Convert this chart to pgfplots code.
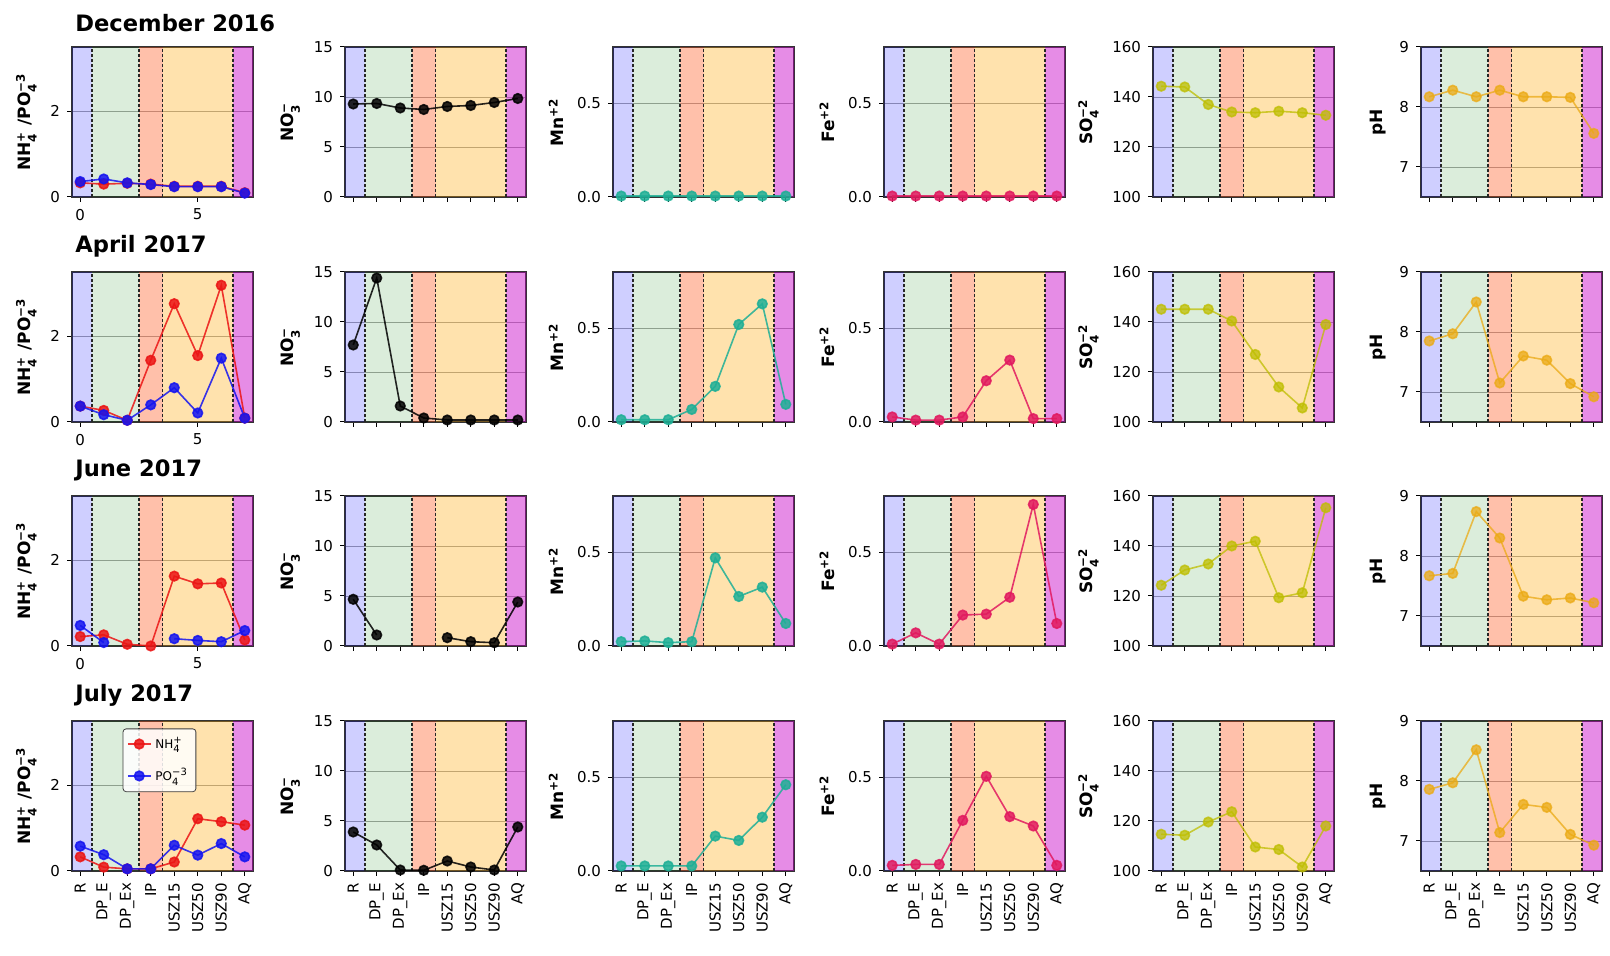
\documentclass[border=0pt]{standalone}
\usepackage{fontspec}
\setmainfont{DejaVu Sans}
\usepackage{amsmath}
\usepackage{pgfplots}
\pgfplotsset{compat=1.18}

\definecolor{cNH}{RGB}{235,20,20}
\definecolor{cPO}{RGB}{20,20,240}
\definecolor{cMn}{RGB}{30,175,150}
\definecolor{cFe}{RGB}{225,25,95}
\definecolor{cSO}{RGB}{190,190,0}
\definecolor{cpH}{RGB}{235,170,20}
\definecolor{sR}{RGB}{0,0,255}
\definecolor{sDP}{RGB}{0,128,0}
\definecolor{sIP}{RGB}{255,80,20}
\definecolor{sUSZ}{RGB}{255,165,0}
\definecolor{sAQ}{RGB}{200,0,200}

\newcommand\tickfont{\fontsize{7.5}{8}\selectfont}
\newcommand\labfont{\fontsize{8.5}{9}\selectfont\bfseries}
\newcommand\titlefont{\fontsize{11.3}{13}\selectfont\bfseries}

\newcommand\spans[2]{%
 \addplot[forget plot,draw=none,fill=sR,fill opacity=0.19] coordinates {(-0.5,#1) (0.5,#1) (0.5,#2) (-0.5,#2)};
 \addplot[forget plot,draw=none,fill=sDP,fill opacity=0.14] coordinates {(0.5,#1) (2.5,#1) (2.5,#2) (0.5,#2)};
 \addplot[forget plot,draw=none,fill=sIP,fill opacity=0.36] coordinates {(2.5,#1) (3.5,#1) (3.5,#2) (2.5,#2)};
 \addplot[forget plot,draw=none,fill=sUSZ,fill opacity=0.32] coordinates {(3.5,#1) (6.5,#1) (6.5,#2) (3.5,#2)};
 \addplot[forget plot,draw=none,fill=sAQ,fill opacity=0.45] coordinates {(6.5,#1) (7.5,#1) (7.5,#2) (6.5,#2)};
 \addplot[forget plot,vl] coordinates {(0.5,#1) (0.5,#2)};
 \addplot[forget plot,vl] coordinates {(2.5,#1) (2.5,#2)};
 \addplot[forget plot,vl] coordinates {(3.5,#1) (3.5,#2)};
 \addplot[forget plot,vl] coordinates {(6.5,#1) (6.5,#2)};
}

\pgfplotsset{
 vl/.style={black!85,line width=0.6pt,dash pattern=on 1.5pt off 1pt},
 base/.style={scale only axis,width=90.5pt,height=75pt,xmin=-0.35,xmax=7.35,
   anchor=south west,tick align=outside,tick pos=left,ymajorgrids,
   grid style={black!35,line width=0.4pt},major tick length=2.5pt,
   tick style={black,line width=0.5pt},axis line style={black!80,line width=0.6pt},
   ticklabel style={font=\tickfont},ylabel style={font=\labfont},
   /pgf/number format/assume math mode=true,unbounded coords=jump,
   title style={at={(0,1)},anchor=south west,font=\titlefont,inner xsep=0pt,yshift=-2pt,xshift=1.5pt}},
 numx/.style={xtick={0,5}},
 nox/.style={xtick={0,...,7},xticklabels={}},
 catx/.style={xtick={0,...,7},xticklabels={R,DP\_E,DP\_Ex,IP,USZ15,USZ50,USZ90,AQ},
   xticklabel style={rotate=90,anchor=east}},
 c1/.style={ymin=0,ymax=3.5,ytick={0,2},ylabel={NH$_{\text{4}}^{\text{+}}$ /PO$_{\text{4}}^{\text{−3}}$}},
 c2/.style={ymin=0,ymax=15,ytick={0,5,10,15},ylabel={NO$_{\text{3}}^{\text{−}}$}},
 c3/.style={ymin=0,ymax=0.8,ytick={0,0.5},yticklabels={0.0,0.5},ylabel={Mn$^{\text{+2}}$}},
 c4/.style={ymin=0,ymax=0.8,ytick={0,0.5},yticklabels={0.0,0.5},ylabel={Fe$^{\text{+2}}$}},
 c5/.style={ymin=100,ymax=160,ytick={100,120,140,160},ylabel={SO$_{\text{4}}^{\text{−2}}$}},
 c6/.style={ymin=6.5,ymax=9,ytick={7,8,9},ylabel={pH}},
 dat/.style={line width=0.8pt,mark=*,mark size=2.4pt,mark options={solid}},
 nh/.style={dat,color=cNH,opacity=0.85},
 po/.style={dat,color=cPO,opacity=0.85},
 no/.style={dat,color=black,opacity=0.85},
 mn/.style={dat,color=cMn,opacity=0.85},
 fe/.style={dat,color=cFe,opacity=0.85},
 so/.style={dat,color=cSO,opacity=0.75},
 ph/.style={dat,color=cpH,opacity=0.75},
}

\begin{document}
\begin{tikzpicture}
\useasboundingbox (0,0) rectangle (805pt,478pt);

% ---------------- Row 1: December 2016 ----------------
\begin{axis}[base,at={(36pt,379.5pt)},c1,numx,title={December 2016}]
\spans{0}{3.5}
\addplot[nh] coordinates {(0,0.33) (1,0.30) (2,0.32) (3,0.30) (4,0.25) (5,0.25) (6,0.25) (7,0.10)};
\addplot[po] coordinates {(0,0.36) (1,0.42) (2,0.33) (3,0.29) (4,0.24) (5,0.24) (6,0.24) (7,0.09)};
\end{axis}
\begin{axis}[base,at={(172.5pt,379.5pt)},c2,nox]
\spans{0}{15}
\addplot[no] coordinates {(0,9.3) (1,9.35) (2,8.9) (3,8.75) (4,9.05) (5,9.15) (6,9.45) (7,9.85)};
\end{axis}
\begin{axis}[base,at={(306.5pt,379.5pt)},c3,nox]
\spans{0}{0.8}
\addplot[mn] coordinates {(0,0.005) (1,0.005) (2,0.005) (3,0.005) (4,0.005) (5,0.005) (6,0.005) (7,0.005)};
\end{axis}
\begin{axis}[base,at={(442pt,379.5pt)},c4,nox]
\spans{0}{0.8}
\addplot[fe] coordinates {(0,0.005) (1,0.005) (2,0.005) (3,0.005) (4,0.005) (5,0.005) (6,0.005) (7,0.005)};
\end{axis}
\begin{axis}[base,at={(576.5pt,379.5pt)},c5,nox]
\spans{100}{160}
\addplot[so] coordinates {(0,144.3) (1,144) (2,137) (3,134) (4,133.7) (5,134.3) (6,133.7) (7,132.7)};
\end{axis}
\begin{axis}[base,at={(710.5pt,379.5pt)},c6,nox]
\spans{6.5}{9}
\addplot[ph] coordinates {(0,8.17) (1,8.28) (2,8.17) (3,8.28) (4,8.17) (5,8.17) (6,8.16) (7,7.56)};
\end{axis}

% ---------------- Row 2: April 2017 ----------------
\begin{axis}[base,at={(36pt,267pt)},c1,numx,title={April 2017}]
\spans{0}{3.5}
\addplot[nh] coordinates {(0,0.37) (1,0.27) (2,0.04) (3,1.44) (4,2.76) (5,1.55) (6,3.19) (7,0.09)};
\addplot[po] coordinates {(0,0.37) (1,0.17) (2,0.04) (3,0.40) (4,0.80) (5,0.21) (6,1.49) (7,0.09)};
\end{axis}
\begin{axis}[base,at={(172.5pt,267pt)},c2,nox]
\spans{0}{15}
\addplot[no] coordinates {(0,7.7) (1,14.4) (2,1.6) (3,0.4) (4,0.2) (5,0.2) (6,0.2) (7,0.2)};
\end{axis}
\begin{axis}[base,at={(306.5pt,267pt)},c3,nox]
\spans{0}{0.8}
\addplot[mn] coordinates {(0,0.012) (1,0.012) (2,0.012) (3,0.067) (4,0.19) (5,0.52) (6,0.63) (7,0.094)};
\end{axis}
\begin{axis}[base,at={(442pt,267pt)},c4,nox]
\spans{0}{0.8}
\addplot[fe] coordinates {(0,0.027) (1,0.01) (2,0.01) (3,0.027) (4,0.22) (5,0.33) (6,0.018) (7,0.018)};
\end{axis}
\begin{axis}[base,at={(576.5pt,267pt)},c5,nox]
\spans{100}{160}
\addplot[so] coordinates {(0,145.1) (1,145.1) (2,145.1) (3,140.4) (4,127) (5,114) (6,105.6) (7,139)};
\end{axis}
\begin{axis}[base,at={(710.5pt,267pt)},c6,nox]
\spans{6.5}{9}
\addplot[ph] coordinates {(0,7.85) (1,7.97) (2,8.5) (3,7.15) (4,7.6) (5,7.53) (6,7.14) (7,6.92)};
\end{axis}

% ---------------- Row 3: June 2017 ----------------
\begin{axis}[base,at={(36pt,155pt)},c1,numx,title={June 2017}]
\spans{0}{3.5}
\addplot[nh] coordinates {(0,0.22) (1,0.26) (2,0.04) (3,0.0) (4,1.63) (5,1.45) (6,1.47) (7,0.14)};
\addplot[po] coordinates {(0,0.48) (1,0.08) (2,nan) (3,nan) (4,0.17) (5,0.13) (6,0.10) (7,0.36)};
\end{axis}
\begin{axis}[base,at={(172.5pt,155pt)},c2,nox]
\spans{0}{15}
\addplot[no] coordinates {(0,4.67) (1,1.1) (2,nan) (3,nan) (4,0.83) (5,0.43) (6,0.33) (7,4.4)};
\end{axis}
\begin{axis}[base,at={(306.5pt,155pt)},c3,nox]
\spans{0}{0.8}
\addplot[mn] coordinates {(0,0.023) (1,0.027) (2,0.018) (3,0.023) (4,0.47) (5,0.264) (6,0.314) (7,0.12)};
\end{axis}
\begin{axis}[base,at={(442pt,155pt)},c4,nox]
\spans{0}{0.8}
\addplot[fe] coordinates {(0,0.01) (1,0.07) (2,0.01) (3,0.165) (4,0.17) (5,0.26) (6,0.755) (7,0.12)};
\end{axis}
\begin{axis}[base,at={(576.5pt,155pt)},c5,nox]
\spans{100}{160}
\addplot[so] coordinates {(0,124.3) (1,130.4) (2,132.8) (3,140) (4,141.9) (5,119.3) (6,121.3) (7,155.3)};
\end{axis}
\begin{axis}[base,at={(710.5pt,155pt)},c6,nox]
\spans{6.5}{9}
\addplot[ph] coordinates {(0,7.67) (1,7.71) (2,8.74) (3,8.3) (4,7.33) (5,7.27) (6,7.3) (7,7.22)};
\end{axis}

% ---------------- Row 4: July 2017 ----------------
\begin{axis}[base,at={(36pt,42.5pt)},c1,catx,title={July 2017},
  legend style={at={(0.28,0.95)},anchor=north west,font=\fontsize{6}{7}\selectfont,
    draw=black!75,rounded corners=1.5pt,fill=white,fill opacity=0.85,text opacity=1,
    inner sep=2pt,row sep=4.5pt,cells={anchor=west}},
  legend image code/.code={\draw[mark repeat=2,mark phase=2] plot coordinates {(0cm,0cm) (0.2cm,0cm) (0.4cm,0cm)};}]
\spans{0}{3.5}
\addplot[nh] coordinates {(0,0.33) (1,0.09) (2,0.05) (3,0.05) (4,0.21) (5,1.22) (6,1.15) (7,1.07)};
\addlegendentry{NH$_{\text{4}}^{\text{+}}$}
\addplot[po] coordinates {(0,0.58) (1,0.38) (2,0.05) (3,0.05) (4,0.60) (5,0.37) (6,0.64) (7,0.33)};
\addlegendentry{PO$_{\text{4}}^{\text{−3}}$}
\end{axis}
\begin{axis}[base,at={(172.5pt,42.5pt)},c2,catx]
\spans{0}{15}
\addplot[no] coordinates {(0,3.9) (1,2.6) (2,0.1) (3,0.07) (4,1.0) (5,0.4) (6,0.1) (7,4.4)};
\end{axis}
\begin{axis}[base,at={(306.5pt,42.5pt)},c3,catx]
\spans{0}{0.8}
\addplot[mn] coordinates {(0,0.027) (1,0.027) (2,0.027) (3,0.027) (4,0.186) (5,0.163) (6,0.287) (7,0.46)};
\end{axis}
\begin{axis}[base,at={(442pt,42.5pt)},c4,catx]
\spans{0}{0.8}
\addplot[fe] coordinates {(0,0.03) (1,0.035) (2,0.035) (3,0.27) (4,0.505) (5,0.29) (6,0.24) (7,0.03)};
\end{axis}
\begin{axis}[base,at={(576.5pt,42.5pt)},c5,catx]
\spans{100}{160}
\addplot[so] coordinates {(0,114.7) (1,114.3) (2,119.6) (3,123.7) (4,109.6) (5,108.6) (6,101.6) (7,118)};
\end{axis}
\begin{axis}[base,at={(710.5pt,42.5pt)},c6,catx]
\spans{6.5}{9}
\addplot[ph] coordinates {(0,7.86) (1,7.97) (2,8.52) (3,7.14) (4,7.61) (5,7.56) (6,7.11) (7,6.93)};
\end{axis}
\end{tikzpicture}
\end{document}
